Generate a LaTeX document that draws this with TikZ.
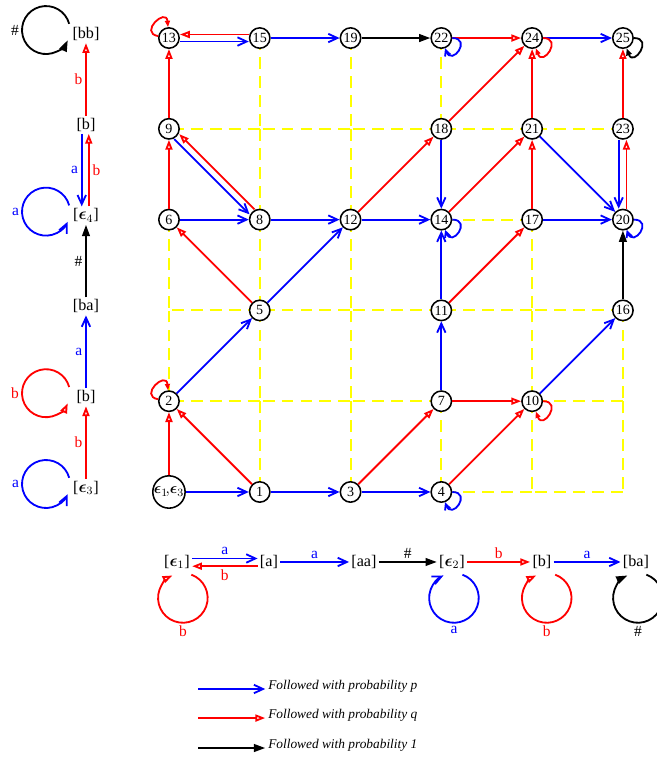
\documentclass[tikz,border=0pt]{standalone}
\usepackage{amsmath,amssymb}
\usepackage{fontspec}
\setmainfont{Liberation Serif}
\usetikzlibrary{arrows.meta,positioning}
\definecolor{pblue}  {RGB}{  0,  0,255}
\definecolor{qred}   {RGB}{255,  0,  0}
\definecolor{gridyel}{RGB}{255,255,  0}
\newcommand{\epsb}[1]{\boldsymbol{\epsilon}_{#1}}

\begin{document}
\begin{tikzpicture}[
    x=2.27cm, y=2.27cm,
    node distance=2.27cm, on grid,
    state/.style={draw, circle, fill=white, line width=1.1pt, inner sep=0pt, minimum size=14.5pt, font=\fontsize{10}{12}\selectfont},
    startstate/.style={state, minimum size=23pt, font=\fontsize{11}{12}\selectfont},
    cls/.style={inner sep=1.5pt, font=\fontsize{11.5}{13}\selectfont},
    lbl/.style={inner sep=2pt, font=\fontsize{11}{13}\selectfont},
    legtext/.style={anchor=west, inner sep=2pt, font=\fontsize{9.5}{11}\selectfont\itshape},
    gridline/.style={draw=gridyel, line width=1.4pt, dash pattern=on 8.5pt off 5pt, dash phase=-2pt},
    parr/.style={-{Straight Barb[length=6.5pt,width=6pt]}, color=pblue, line width=1.3pt},
    qarr/.style={-{Triangle[open,length=7pt,width=5pt]}, color=qred, line width=1.3pt},
    onearr/.style={-{Triangle[length=8pt,width=5.5pt]}, color=black, line width=1.3pt},
    ploop/.style={parr, -{Straight Barb[length=4pt,width=4pt]}},
    qloop/.style={qarr, -{Triangle[open,length=4.5pt,width=3.5pt]}},
    oneloop/.style={onearr, -{Triangle[length=5pt,width=4pt]}},
    brloop/.style={out=0, in=-70, min distance=5mm},
    tlloop/.style={out=170, in=95, min distance=5mm}
]
    \useasboundingbox (-1.861,-2.963) rectangle (5.374,5.419);

    % dashed background grid (only where no transition runs)
    \foreach \c/\r in {3/0,4/0, 0/1,1/1,2/1,4/1, 0/2,1/2,2/2,3/2,4/2, 3/3, 0/4,1/4,2/4,3/4,4/4}
        \draw[gridline] (\c,\r) -- ({\c+1},\r);
    \foreach \c/\r in {0/1,0/2, 1/0,1/1,1/2,1/3,1/4, 2/0,2/1,2/2,2/3,2/4, 3/0,3/4, 4/0,4/1,4/2, 5/0,5/1}
        \draw[gridline] (\c,\r) -- (\c,{\r+1});

    % grid states
    \node[startstate] (n0) at (0,0) {$\epsb{1}\mkern-3mu,\mkern-3mu\epsb{3}$};
    \node[state] (n1) at (1,0) {1};
    \node[state] (n3) at (2,0) {3};
    \node[state] (n4) at (3,0) {4};
    \node[state] (n2) at (0,1) {2};
    \node[state] (n7) at (3,1) {7};
    \node[state] (n10) at (4,1) {10};
    \node[state] (n5) at (1,2) {5};
    \node[state] (n11) at (3,2) {11};
    \node[state] (n16) at (5,2) {16};
    \node[state] (n6) at (0,3) {6};
    \node[state] (n8) at (1,3) {8};
    \node[state] (n12) at (2,3) {12};
    \node[state] (n14) at (3,3) {14};
    \node[state] (n17) at (4,3) {17};
    \node[state] (n20) at (5,3) {20};
    \node[state] (n9) at (0,4) {9};
    \node[state] (n18) at (3,4) {18};
    \node[state] (n21) at (4,4) {21};
    \node[state] (n23) at (5,4) {23};
    \node[state] (n13) at (0,5) {13};
    \node[state] (n15) at (1,5) {15};
    \node[state] (n19) at (2,5) {19};
    \node[state] (n22) at (3,5) {22};
    \node[state] (n24) at (4,5) {24};
    \node[state] (n25) at (5,5) {25};

    \draw[parr] (n0) -- (n1);
    \draw[parr] (n1) -- (n3);
    \draw[parr] (n3) -- (n4);
    \draw[qarr] (n0) -- (n2);
    \draw[qarr] (n1) -- (n2);
    \draw[qarr] (n3) -- (n7);
    \draw[qarr] (n4) -- (n10);
    \draw[parr] (n2) -- (n5);
    \draw[qarr] (n7) -- (n10);
    \draw[parr] (n7) -- (n11);
    \draw[parr] (n10) -- (n16);
    \draw[qarr] (n5) -- (n6);
    \draw[parr] (n5) -- (n12);
    \draw[parr] (n11) -- (n14);
    \draw[qarr] (n11) -- (n17);
    \draw[onearr] (n16) -- (n20);
    \draw[parr] (n6) -- (n8);
    \draw[qarr] (n6) -- (n9);
    \draw[parr] (n8) -- (n12);
    \draw[parr] ([shift={(-135:2.5pt)}]n9.-45) -- ([shift={(-135:2.5pt)}]n8.135);
    \draw[qarr] ([shift={(45:2.5pt)}]n8.135) -- ([shift={(45:2.5pt)}]n9.-45);
    \draw[parr] (n12) -- (n14);
    \draw[qarr] (n12) -- (n18);
    \draw[qarr] (n14) -- (n21);
    \draw[parr] (n17) -- (n20);
    \draw[qarr] (n17) -- (n21);
    \draw[parr] (n18) -- (n14);
    \draw[qarr] (n18) -- (n24);
    \draw[parr] (n21) -- (n20);
    \draw[qarr] (n21) -- (n24);
    \draw[parr] ([xshift=-3pt]n23.south) -- ([xshift=-3pt]n20.north);
    \draw[qarr] ([xshift=2.5pt]n20.north) -- ([xshift=2.5pt]n23.south);
    \draw[qarr] (n23) -- (n25);
    \draw[qarr] (n9) -- (n13);
    \draw[parr] ([yshift=-2.5pt]n13.east) -- ([yshift=-2.5pt]n15.west);
    \draw[qarr] ([yshift=2.5pt]n15.west) -- ([yshift=2.5pt]n13.east);
    \draw[parr] (n15) -- (n19);
    \draw[onearr] (n19) -- (n22);
    \draw[qarr] (n22) -- (n24);
    \draw[parr] (n24) -- (n25);

    \draw[qloop, tlloop] (n2) to (n2);
    \draw[qloop, tlloop] (n13) to (n13);
    \draw[ploop, brloop] (n4) to (n4);
    \draw[qloop, brloop] (n10) to (n10);
    \draw[ploop, brloop] (n14) to (n14);
    \draw[ploop, brloop] (n20) to (n20);
    \draw[ploop, brloop] (n22) to (n22);
    \draw[qloop, brloop] (n24) to (n24);
    \draw[oneloop, brloop] (n25) to (n25);

    % left automaton
    \node[cls] (le3) at (-0.914,0.044) {[$\epsb{3}$]};
    \node[cls] (lb2) [above=of le3] {[b]};
    \node[cls] (lba) [above=of lb2] {[ba]};
    \node[cls] (le4) [above=of lba] {[$\epsb{4}$]};
    \node[cls] (lb) [above=of le4] {[b]};
    \node[cls] (lbb) [above=of lb] {[bb]};

    \draw[qarr] (lb) -- node[lbl, left] {b} (lbb);
    \draw[parr] ([xshift=-3pt]lb.south) -- node[lbl, left] {a} ([xshift=-3pt]le4.north);
    \draw[qarr] ([xshift=2pt]le4.north) -- node[lbl, right] {b} ([xshift=2pt]lb.south);
    \draw[onearr] (lba) -- node[lbl, left] {\#} (le4);
    \draw[parr] (lb2) -- node[lbl, left] {a} (lba);
    \draw[qarr] (le3) -- node[lbl, left] {b} (lb2);

    % self-loops on the left, circles of radius 0.6cm
    \draw[onearr] ([shift={(-0.42cm,0.255cm)}]lbb.center) arc[start angle=15, end angle=335, radius=0.6cm];
    \draw[parr] ([shift={(-0.42cm,0.255cm)}]le4.center) arc[start angle=15, end angle=335, radius=0.6cm];
    \draw[qarr] ([shift={(-0.42cm,0.255cm)}]lb2.center) arc[start angle=15, end angle=335, radius=0.6cm];
    \draw[parr] ([shift={(-0.42cm,0.255cm)}]le3.center) arc[start angle=15, end angle=335, radius=0.6cm];
    \node[lbl, anchor=east] (lbbloop) at ([shift={(-1.6cm,0.1cm)}]lbb.center) {\#};
    \node[lbl, anchor=east, text=pblue] (le4loop) at ([shift={(-1.6cm,0.1cm)}]le4.center) {a};
    \node[lbl, anchor=east, text=qred] (lb2loop) at ([shift={(-1.6cm,0.1cm)}]lb2.center) {b};
    \node[lbl, anchor=east, text=pblue] (le3loop) at ([shift={(-1.6cm,0.1cm)}]le3.center) {a};

    % bottom automaton
    \node[cls] (be1) at (0.088,-0.771) {[$\epsb{1}$]};
    \node[cls] (ba) at (1.101,-0.771) {[a]};
    \node[cls] (baa) at (2.148,-0.771) {[aa]};
    \node[cls] (be2) at (3.117,-0.771) {[$\epsb{2}$]};
    \node[cls] (bb) at (4.108,-0.771) {[b]};
    \node[cls] (bba) at (5.143,-0.771) {[ba]};

    \draw[parr] ([yshift=2.5pt]be1.east) -- node[lbl, above] {a} ([yshift=2.5pt]ba.west);
    \draw[qarr] ([yshift=-3pt]ba.west) -- node[lbl, below] {b} ([yshift=-3pt]be1.east);
    \draw[parr] (ba) -- node[lbl, above] {a} (baa);
    \draw[onearr] (baa) -- node[lbl, above] {\#} (be2);
    \draw[qarr] (be2) -- node[lbl, above] {b} (bb);
    \draw[parr] (bb) -- node[lbl, above] {a} (bba);

    % self-loops below, circles of radius 0.62cm
    \draw[qarr] ([shift={(0.36cm,-0.317cm)}]be1.center) arc[start angle=70, end angle=-245, radius=0.62cm];
    \draw[parr] ([shift={(0.262cm,-0.317cm)}]be2.center) arc[start angle=70, end angle=-245, radius=0.62cm];
    \draw[qarr] ([shift={(0.332cm,-0.317cm)}]bb.center) arc[start angle=70, end angle=-245, radius=0.62cm];
    \draw[onearr] ([shift={(0.262cm,-0.317cm)}]bba.center) arc[start angle=70, end angle=-245, radius=0.62cm];
    \node[lbl, anchor=north, text=qred] (be1loop) at ([shift={(0.15cm,-1.52cm)}]be1.center) {b};
    \node[lbl, anchor=north, text=pblue] (be2loop) at ([shift={(0.05cm,-1.52cm)}]be2.center) {a};
    \node[lbl, anchor=north, text=qred] (bbloop) at ([shift={(0.12cm,-1.52cm)}]bb.center) {b};
    \node[lbl, anchor=north] (bbaloop) at ([shift={(0.05cm,-1.52cm)}]bba.center) {\#};

    % legend
    \coordinate (lp) at (0.32,-2.17);
    \coordinate (lq) at (0.32,-2.49);
    \coordinate (lone) at (0.32,-2.82);
    \node[legtext] (lptext) at (1.06,-2.14) {Followed with probability p};
    \node[legtext] (lqtext) at (1.06,-2.46) {Followed with probability q};
    \node[legtext] (lonetext) at (1.06,-2.79) {Followed with probability 1};
    \draw[parr] (lp) -- (lp -| lptext.west);
    \draw[qarr] (lq) -- (lq -| lqtext.west);
    \draw[onearr] (lone) -- (lone -| lonetext.west);
\end{tikzpicture}
\end{document}
